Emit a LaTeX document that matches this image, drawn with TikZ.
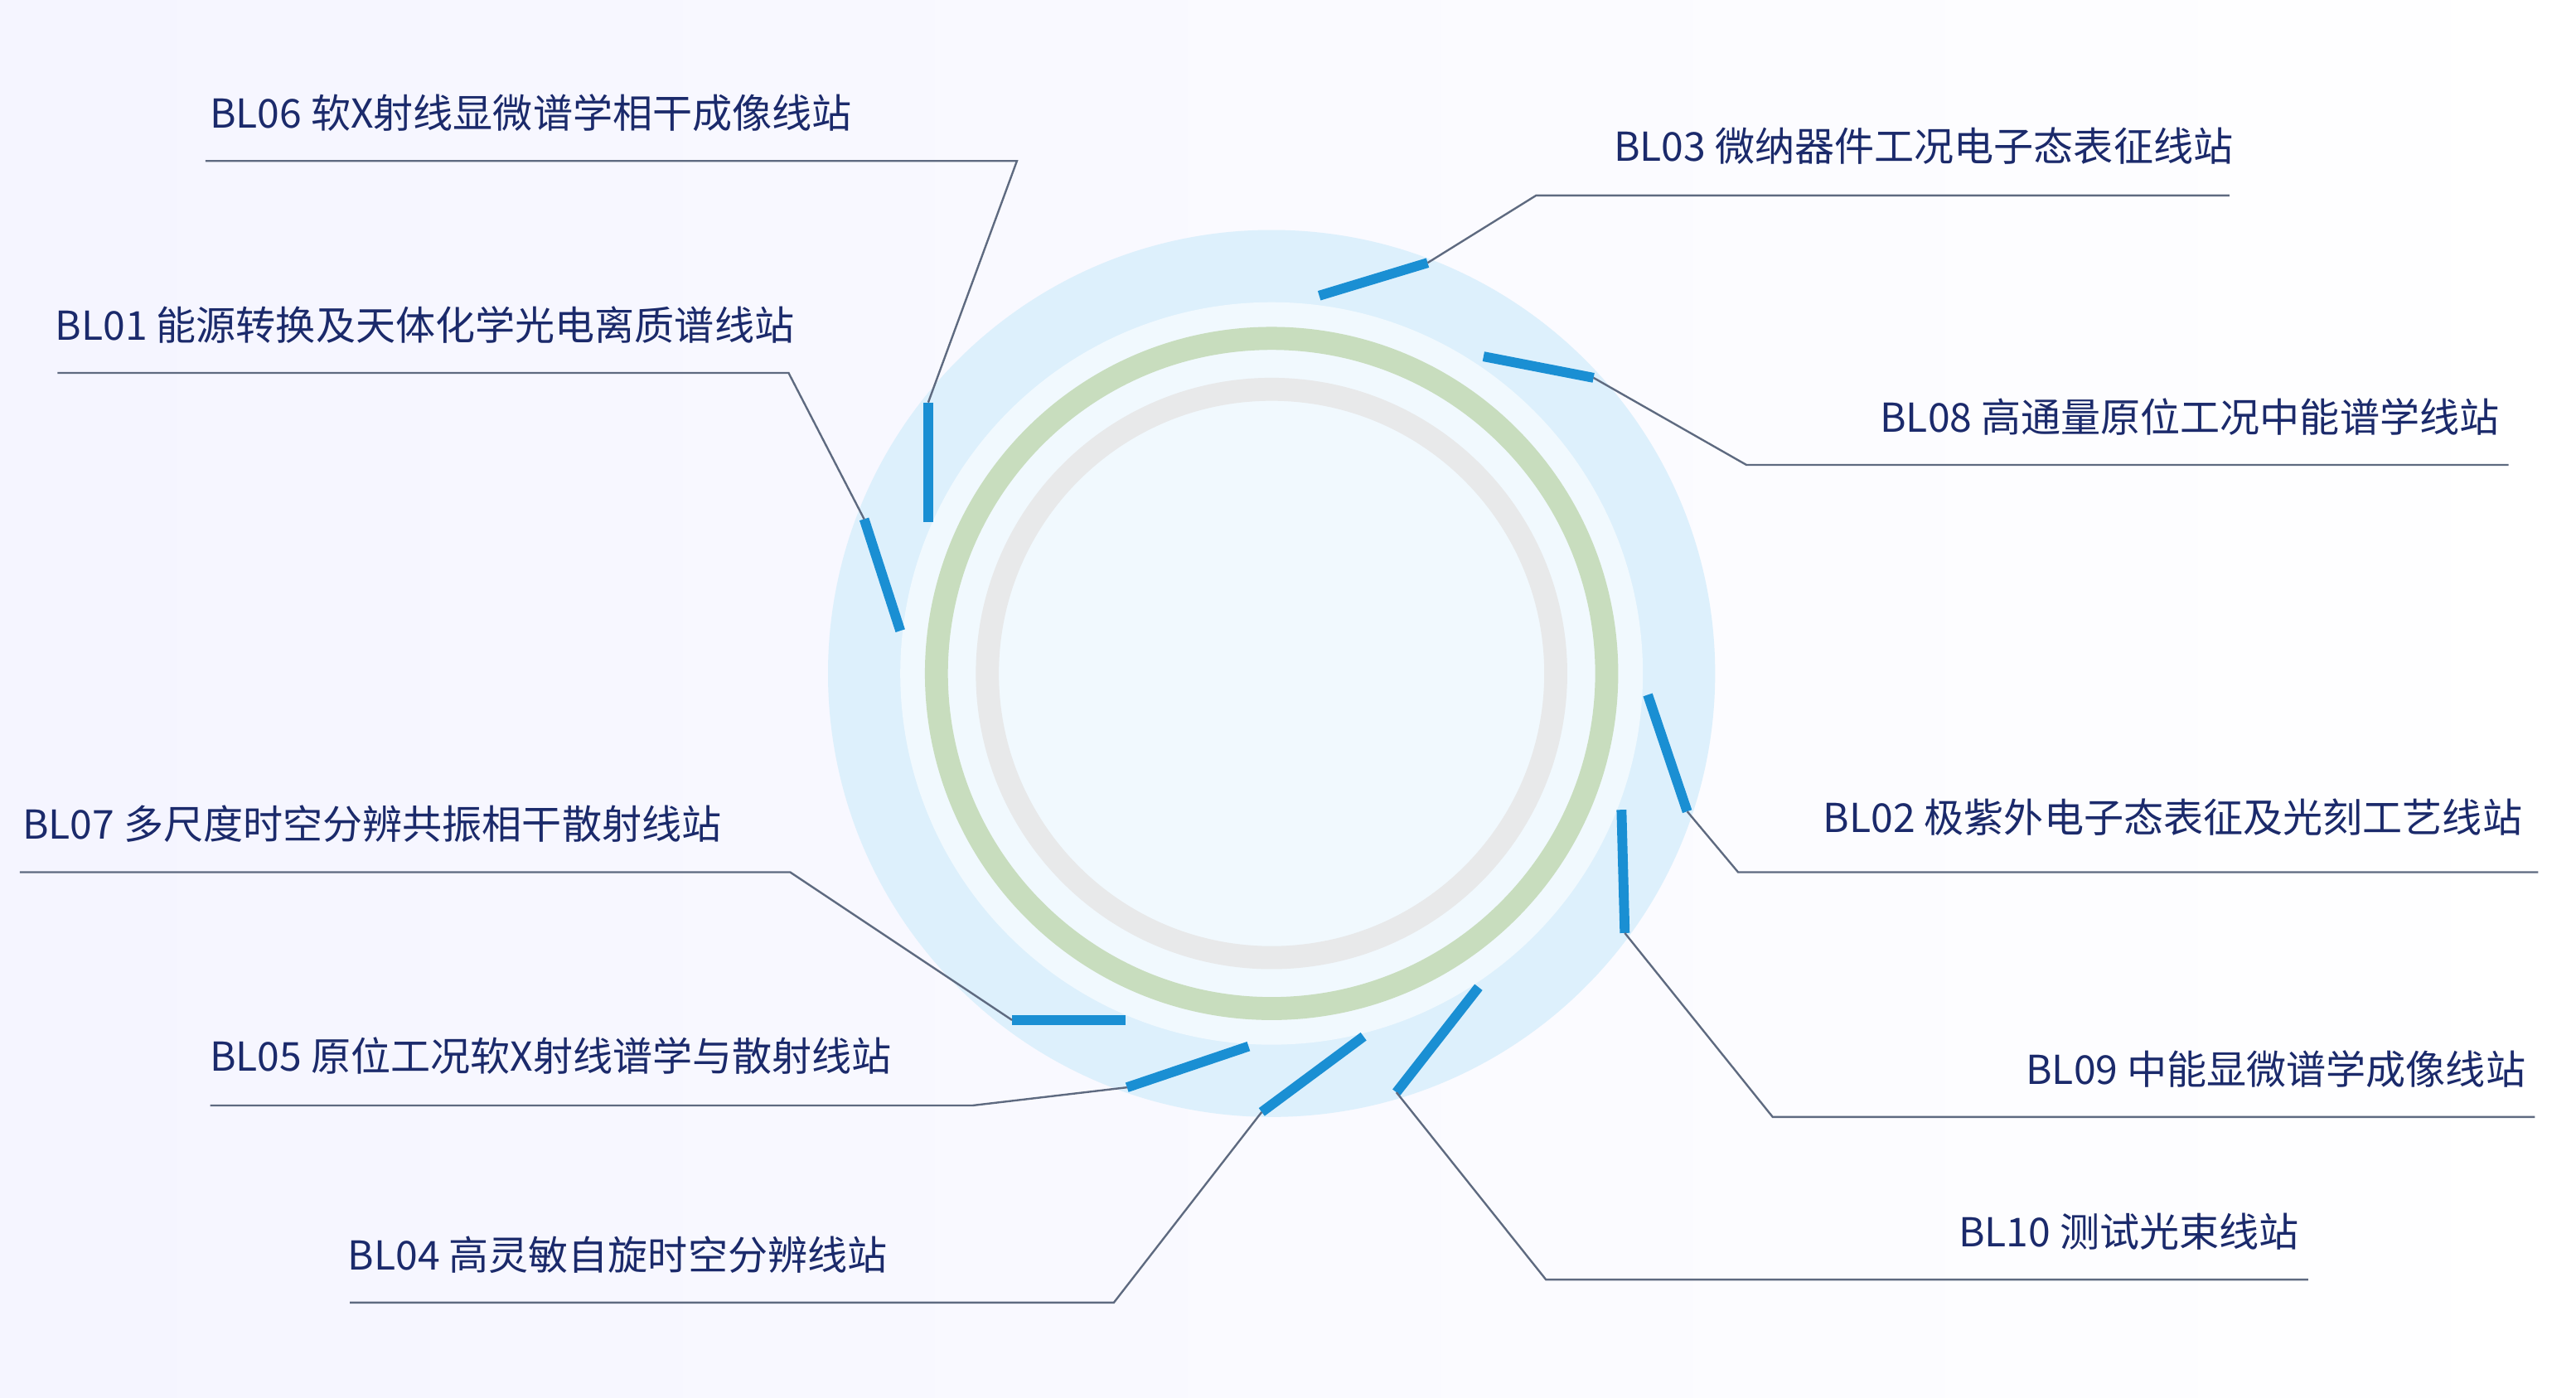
\documentclass[tikz,border=0pt]{standalone}
\usepackage{fontspec}
\setmainfont{Noto Sans CJK SC}
\usepackage{xcolor}
\usetikzlibrary{positioning}
\definecolor{navy}{HTML}{1B2A6B}
\definecolor{tick}{HTML}{1A8FD3}
\definecolor{halo}{HTML}{DDF0FC}
\definecolor{ringg}{HTML}{C8DDBE}
\definecolor{ringgray}{HTML}{E8E9EA}
\definecolor{leader}{HTML}{5E6A80}
\tikzset{
  tk/.style={tick, line width=0.6mm},
  ld/.style={leader, line width=0.12mm},
  lab/.style={text=navy, font=\fontsize{6.9}{8}\selectfont, inner sep=0pt},
  labl/.style={lab, anchor=base west},
  labr/.style={lab, anchor=base east}
}
\begin{document}
\begin{tikzpicture}[x=0.01cm, y=-0.01cm]
    \useasboundingbox (0,0) rectangle (1568,851);
    % background
    \shade[left color=blue!4, right color=white, middle color=blue!2] (0,0) rectangle (1568,851);
    % rings
    \fill[halo] (774,410) circle (270);
    \fill[white!60!halo] (774,410) circle (226);
    \draw[ringg, line width=0.14cm] (774,410) circle (204);
    \draw[ringgray, line width=0.14cm] (774,410) circle (173);
    % ticks
    \coordinate (t6a) at (565,245); \coordinate (t6b) at (565,318);
    \coordinate (t1a) at (526,316); \coordinate (t1b) at (548,384);
    \coordinate (t3a) at (869,160); \coordinate (t3b) at (803,180);
    \coordinate (t8a) at (970,230); \coordinate (t8b) at (903,217);
    \coordinate (t2a) at (1027,494); \coordinate (t2b) at (1003,423);
    \coordinate (t9a) at (989,568); \coordinate (t9b) at (987,493);
    \coordinate (t10a) at (850,665); \coordinate (t10b) at (900,601);
    \coordinate (t4a) at (768,677); \coordinate (t4b) at (830,631);
    \coordinate (t5a) at (686,662); \coordinate (t5b) at (760,637);
    \coordinate (t7a) at (616,621); \coordinate (t7b) at (685,621);
    \foreach \n in {6,1,3,8,2,9,10,4,5,7}
        \draw[tk] (t\n a) -- (t\n b);
    % knees and ends
    \coordinate (k6) at (619,98);   \coordinate (e6) at (125,98);
    \coordinate (k1) at (480,227);  \coordinate (e1) at (35,227);
    \coordinate (k3) at (935,119);  \coordinate (e3) at (1357,119);
    \coordinate (k8) at (1063,283); \coordinate (e8) at (1527,283);
    \coordinate (k2) at (1058,531); \coordinate (e2) at (1545,531);
    \coordinate (k9) at (1079,680); \coordinate (e9) at (1543,680);
    \coordinate (k10) at (941,779); \coordinate (e10) at (1405,779);
    \coordinate (k4) at (678,793);  \coordinate (e4) at (213,793);
    \coordinate (k5) at (592,673);  \coordinate (e5) at (128,673);
    \coordinate (k7) at (481,531);  \coordinate (e7) at (12,531);
    \foreach \n in {6,1,3,8,2,9,10,4,5,7}
        \draw[ld] (t\n a) -- (k\n) -- (e\n);
    % labels
    \node[labl] (l6) at (127,78) {BL06 软X射线显微谱学相干成像线站};
    \node[labl] (l1) at (33,207) {BL01 能源转换及天体化学光电离质谱线站};
    \node[labl] (l7) at (13,511) {BL07 多尺度时空分辨共振相干散射线站};
    \node[labl] (l5) at (127,652) {BL05 原位工况软X射线谱学与散射线站};
    \node[labl] (l4) at (211,773) {BL04 高灵敏自旋时空分辨线站};
    \node[labr] (l3) at (1360,98) {BL03 微纳器件工况电子态表征线站};
    \node[labr] (l8) at (1522,263) {BL08 高通量原位工况中能谱学线站};
    \node[labr] (l2) at (1536,507) {BL02 极紫外电子态表征及光刻工艺线站};
    \node[labr] (l9) at (1538,660) {BL09 中能显微谱学成像线站};
    \node[labr] (l10) at (1400,759) {BL10 测试光束线站};
\end{tikzpicture}
\end{document}
